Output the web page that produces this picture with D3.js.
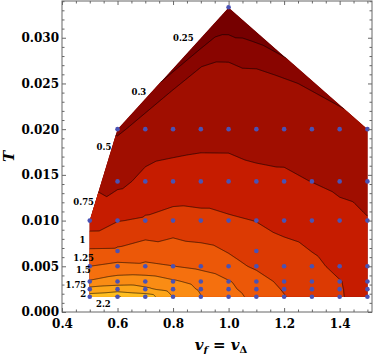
<!DOCTYPE html>
<html>
<head>
<meta charset="utf-8">
<title>Contour plot</title>
<script src="https://cdn.jsdelivr.net/npm/d3@7"></script>
<style>
body { margin: 0; background: #fff; }
svg text { font-family: "DejaVu Serif", serif; font-weight: bold; fill: #000; }
.tick line { stroke: #666; }
</style>
</head>
<body>
<svg id="chart" width="374" height="354"></svg>
<script>
// sample grid: v_f = v_Delta columns, temperature rows (null = no sample)
var vGrid = [0.5, 0.6, 0.7, 0.8, 0.9, 1.0, 1.1, 1.2, 1.3, 1.4, 1.5];
var tRows = [1/600, 1/400, 1/300, 1/200, 1/150, 1/100, 1/70, 1/50, 1/30];

var row600 = [2.116, 2.22, 2.149, 1.745, 1.51, 1.31, 1.205, 1.015, 0.83, 0.765, 0.68];
var row400 = [1.84, 1.887, 1.795, 1.64, 1.47, 1.29, 1.16, 0.975, 0.825, 0.763, 0.67];
var row300 = [1.523, 1.62, 1.64, 1.533, 1.425, 1.265, 1.113, 0.93, 0.815, 0.758, 0.66];
var row200 = [1.25, 1.325, 1.30, 1.255, 1.188, 1.087, 0.96, 0.875, 0.80, 0.70, 0.62];
var row150 = [null, 1.04, null, null, null, null, 0.86, null, null, null, null];
var row100 = [0.60, 0.74, 0.78, 0.845, 0.823, 0.781, 0.745, 0.68, 0.64, 0.574, 0.51];
var row70  = [null, 0.436, 0.56, 0.579, 0.593, 0.592, 0.554, 0.538, 0.497, 0.45, 0.42];
var row50  = [null, 0.28, 0.345, 0.405, 0.423, 0.422, 0.40, 0.398, 0.38, 0.36, 0.32];
var row30  = [null, null, null, null, null, 0.20, null, null, null, null, null];
var rows = [row600, row400, row300, row200, row150, row100, row70, row50, row30];

var levels = [0.25, 0.3, 0.5, 0.75, 1, 1.25, 1.5, 1.75, 2, 2.2];
var bandColors = ["#760000", "#890500", "#a00e00", "#c61c00", "#dc3a03", "#ec5808",
                  "#f5700e", "#fa8c14", "#fda519", "#ffbe20", "#ffcd2a"];

var xMajor = [0.4, 0.6, 0.8, 1.0, 1.2, 1.4];
var yMajor = [0, 0.005, 0.010, 0.015, 0.020, 0.025, 0.030];

// contour label anchors (data coords)
var contourLabels = [
  {text: "0.25", v: 0.837, T: 0.0300},
  {text: "0.3",  v: 0.677, T: 0.0241},
  {text: "0.5",  v: 0.551, T: 0.01808},
  {text: "0.75", v: 0.478, T: 0.0120},
  {text: "1",    v: 0.474, T: 0.00791},
  {text: "1.25", v: 0.478, T: 0.00594},
  {text: "1.5",  v: 0.477, T: 0.00459},
  {text: "1.75", v: 0.450, T: 0.00295},
  {text: "2",    v: 0.476, T: 0.00197},
  {text: "2.2",  v: 0.549, T: 0.00084}
];

var svg = d3.select("#chart");
var fLeft = 62, fRight = 372, fTop = 1, fBottom = 312;

var x = d3.scaleLinear().domain([0.4, 1.5165]).range([fLeft, fRight]);
var y = d3.scaleLinear().domain([0, 0.03402]).range([fBottom, fTop]);

// flatten samples
var samples = [];
rows.forEach(function(r, ri) {
  r.forEach(function(val, ci) {
    if (val != null) samples.push({v: vGrid[ci], T: tRows[ri], z: val});
  });
});

// triangulate like ListContourPlot and rasterise linear interpolation
var delaunay = d3.Delaunay.from(samples, d => x(d.v), d => y(d.T));
var gx0 = 58, gy0 = 0, nx = 318, ny = 316;
var grid = new Float64Array(nx * ny).fill(NaN);
var tri = delaunay.triangles;
for (var t = 0; t < tri.length; t += 3) {
  var A = samples[tri[t]], B = samples[tri[t+1]], C = samples[tri[t+2]];
  var ax = x(A.v), ay = y(A.T), bx = x(B.v), by = y(B.T), cx = x(C.v), cy = y(C.T);
  var det = (by - cy) * (ax - cx) + (cx - bx) * (ay - cy);
  var i0 = Math.max(0, Math.floor(Math.min(ax, bx, cx) - gx0 - 1)),
      i1 = Math.min(nx - 1, Math.ceil(Math.max(ax, bx, cx) - gx0 + 1)),
      j0 = Math.max(0, Math.floor(Math.min(ay, by, cy) - gy0 - 1)),
      j1 = Math.min(ny - 1, Math.ceil(Math.max(ay, by, cy) - gy0 + 1));
  for (var j = j0; j <= j1; j++) {
    for (var i = i0; i <= i1; i++) {
      var px = gx0 + i + 0.5, py = gy0 + j + 0.5;
      var w0 = ((by - cy) * (px - cx) + (cx - bx) * (py - cy)) / det;
      var w1 = ((cy - ay) * (px - cx) + (ax - cx) * (py - cy)) / det;
      var w2 = 1 - w0 - w1;
      if (w0 >= -1e-6 && w1 >= -1e-6 && w2 >= -1e-6) {
        grid[j * nx + i] = w0 * A.z + w1 * B.z + w2 * C.z;
      }
    }
  }
}
// push values outward past the hull so lines run cleanly to the clip edge
var queue = [];
for (var k = 0; k < grid.length; k++) if (!isNaN(grid[k])) queue.push(k);
for (var h = 0; h < queue.length; h++) {
  var kk = queue[h], ii = kk % nx, jj = (kk - ii) / nx;
  [[1,0],[-1,0],[0,1],[0,-1]].forEach(function(d) {
    var ni = ii + d[0], nj = jj + d[1];
    if (ni < 0 || nj < 0 || ni >= nx || nj >= ny) return;
    var nk = nj * nx + ni;
    if (isNaN(grid[nk])) { grid[nk] = grid[kk]; queue.push(nk); }
  });
}

var contours = d3.contours().size([nx, ny]).thresholds(levels)(Array.from(grid));
var path = d3.geoPath(d3.geoIdentity().translate([gx0, gy0]));

var hull = delaunay.hullPolygon();
var hullD = "M" + hull.map(p => p.join(",")).join("L") + "Z";

svg.append("defs").append("clipPath").attr("id", "hullClip")
  .append("path").attr("d", hullD);

var plot = svg.append("g").attr("clip-path", "url(#hullClip)");
plot.append("path").attr("d", hullD).attr("fill", bandColors[0]);
plot.selectAll("path.band")
  .data(contours)
  .enter().append("path")
  .attr("class", "band")
  .attr("d", path)
  .attr("fill", (d, i) => bandColors[i + 1]);
plot.selectAll("path.iso")
  .data(contours)
  .enter().append("path")
  .attr("class", "iso")
  .attr("d", path)
  .attr("fill", "none")
  .attr("stroke", "#000")
  .attr("stroke-opacity", 0.75)
  .attr("stroke-width", 0.8);

// sample points
svg.append("g").selectAll("circle")
  .data(samples)
  .enter().append("circle")
  .attr("cx", d => x(d.v))
  .attr("cy", d => y(d.T))
  .attr("r", 2.3)
  .attr("fill", "#4a52b4");

// contour labels
svg.append("g").selectAll("text")
  .data(contourLabels)
  .enter().append("text")
  .attr("x", d => x(d.v))
  .attr("y", d => y(d.T))
  .attr("dy", "0.36em")
  .attr("text-anchor", "middle")
  .style("font-size", "8.5px")
  .text(d => d.text);

// frame and ticks
var xMinor = d3.range(0.4, 1.52, 0.05).filter(v => !xMajor.some(m => Math.abs(m - v) < 1e-6));
var yMinor = d3.range(0, 0.0341, 0.001).filter(v => !yMajor.some(m => Math.abs(m - v) < 1e-7));

function addAxis(axis, tx, ty, labels) {
  var g = svg.append("g").attr("transform", "translate(" + tx + "," + ty + ")").call(axis);
  g.select(".domain").remove();
  g.selectAll(".tick line").attr("stroke", "#666");
  g.selectAll("text").style("font-size", "12px").attr("fill", "#000");
  if (!labels) g.selectAll("text").remove();
  return g;
}
addAxis(d3.axisBottom(x).tickValues(xMajor).tickSize(-4).tickPadding(7).tickFormat(d3.format(".1f")), 0, fBottom, true);
addAxis(d3.axisBottom(x).tickValues(xMinor).tickSize(-2.5), 0, fBottom, false);
addAxis(d3.axisTop(x).tickValues(xMajor).tickSize(-4), 0, fTop, false);
addAxis(d3.axisTop(x).tickValues(xMinor).tickSize(-2.5), 0, fTop, false);
addAxis(d3.axisLeft(y).tickValues(yMajor).tickSize(-4).tickPadding(3).tickFormat(d3.format(".3f")), fLeft, 0, true);
addAxis(d3.axisLeft(y).tickValues(yMinor).tickSize(-2.5), fLeft, 0, false);
addAxis(d3.axisRight(y).tickValues(yMajor).tickSize(-4), fRight, 0, false);
addAxis(d3.axisRight(y).tickValues(yMinor).tickSize(-2.5), fRight, 0, false);

svg.append("rect")
  .attr("x", fLeft).attr("y", fTop)
  .attr("width", fRight - fLeft).attr("height", fBottom - fTop)
  .attr("fill", "none").attr("stroke", "#666").attr("stroke-width", 1);

// axis titles
svg.append("text")
  .attr("transform", "translate(14," + ((fTop + fBottom) / 2) + ") rotate(-90)")
  .attr("text-anchor", "middle")
  .style("font-size", "15px").style("font-style", "italic")
  .text("T");

var xt = svg.append("text")
  .attr("x", (fLeft + fRight) / 2 + 4).attr("y", 350)
  .attr("text-anchor", "middle")
  .style("font-size", "15px").style("font-style", "italic");
xt.append("tspan").text("v");
xt.append("tspan").attr("dy", 3).style("font-size", "10px").text("f");
xt.append("tspan").attr("dy", -3).text(" = v");
xt.append("tspan").attr("dy", 3).style("font-size", "10px").style("font-style", "normal").text("Δ");
</script>
</body>
</html>
